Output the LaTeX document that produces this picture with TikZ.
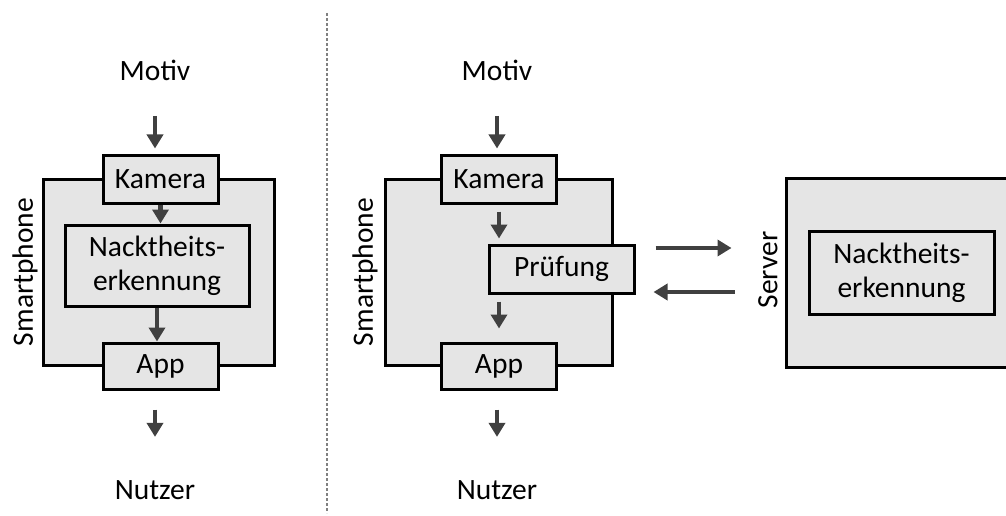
\documentclass[tikz,border=0pt]{standalone}
\usepackage{fontspec}
\setmainfont{Carlito}
\usetikzlibrary{arrows.meta}

\begin{document}
\begin{tikzpicture}[x=1pt,y=-1pt,
    font=\fontsize{29.5}{34}\selectfont,
    box/.style={draw=black, line width=3pt, fill=gray!20, inner sep=0pt, align=center},
    arr/.style={draw=black!75, line width=4.5pt, -{Triangle[length=14pt,width=16pt]}},
    sep/.style={draw=black!50, line width=1.2pt, dash pattern=on 3pt off 2pt}]
    \useasboundingbox (0,0) rectangle (1006,516);
    \coordinate (sepTop) at (327,13);
    \coordinate (sepBot) at (327,513);
    \draw[sep] (sepTop) -- (sepBot);

    \node[box, minimum width=231, minimum height=186] (phoneL) at (158.5,272) {};
    \node[box, minimum width=115, minimum height=48] (kameraL) at (160.5,179) {Kamera};
    \node[box, minimum width=184, minimum height=81] (nacktL) at (157,265.5) {Nacktheits-\\erkennung};
    \node[box, minimum width=115, minimum height=46] (appL) at (160.5,366) {App};
    \node[rotate=90] (phoneLlbl) at (25,272) {Smartphone};
    \node (motivL) at (155,70) {Motiv};
    \node (nutzerL) at (155,490) {Nutzer};
    \draw[arr, shorten <=32pt, shorten >=5pt] (motivL) -- (motivL |- kameraL.north);
    \draw[arr] (kameraL.south) -- (kameraL.south |- nacktL.north);
    \draw[arr] (nacktL.south) -- (nacktL.south |- appL.north);
    \draw[arr, shorten <=19pt, shorten >=40pt] (nutzerL |- appL.south) -- (nutzerL);

    \node[box, minimum width=227, minimum height=186] (phoneR) at (498.5,272) {};
    \node[box, minimum width=115, minimum height=48] (kameraR) at (499,179) {Kamera};
    \node[box, minimum width=145, minimum height=48] (pruefung) at (561.5,269) {Prüfung};
    \node[box, minimum width=115, minimum height=46] (appR) at (499,366) {App};
    \node[rotate=90] (phoneRlbl) at (365,272) {Smartphone};
    \node (motivR) at (497,70) {Motiv};
    \node (nutzerR) at (497,490) {Nutzer};
    \draw[arr, shorten <=32pt, shorten >=5pt] (motivR) -- (motivR |- kameraR.north);
    \draw[arr, shorten <=7pt, shorten >=5pt] (kameraR.south) -- (kameraR.south |- pruefung.north);
    \draw[arr, shorten <=7pt, shorten >=13pt] (kameraR |- pruefung.south) -- (appR.north);
    \draw[arr, shorten <=19pt, shorten >=40pt] (nutzerR |- appR.south) -- (nutzerR);

    \node[box, minimum width=221, minimum height=189] (server) at (896.5,272.5) {};
    \node[box, minimum width=185, minimum height=83] (nacktS) at (901.5,272.5) {Nacktheits-\\erkennung};
    \node[rotate=90] (serverlbl) at (768,270) {Server};
    \draw[arr, shorten <=20pt, shorten >=53pt] ([yshift=21pt]pruefung.east) -- ([yshift=21pt]pruefung.east -| server.west);
    \draw[arr, shorten <=50pt, shorten >=18pt] ([yshift=-23pt]pruefung.east -| server.west) -- ([yshift=-23pt]pruefung.east);
\end{tikzpicture}
\end{document}
